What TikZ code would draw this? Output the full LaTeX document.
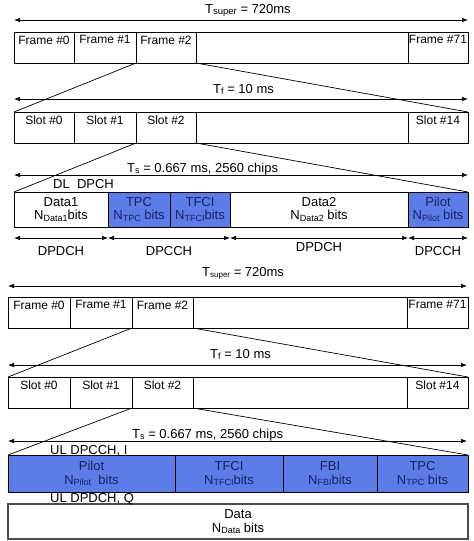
\documentclass[tikz,border=0pt]{standalone}
\usepackage{fontspec}
\setmainfont{Liberation Sans}
\usetikzlibrary{arrows.meta}
\definecolor{cellblue}{RGB}{92,124,232}
\definecolor{celltext}{RGB}{25,35,95}
\newcommand\sbs[1]{\raisebox{-1.5pt}{\fontsize{9}{9}\selectfont #1}}
\newcommand\sbt[1]{\raisebox{-1.5pt}{\fontsize{8}{8}\selectfont #1}}
\newcommand\fsz{\fontsize{13}{15}\selectfont}
\newcommand\fsm{\fontsize{12}{14}\selectfont}
\newcommand\mkcell[7]{\node[cellbase,#6,minimum width={(#4)-(#2)},minimum height={(#5)-(#3)},anchor=north west] (#1) at (#2,#3) {#7};}
\tikzset{
  cellbase/.style={draw=black,line width=0.8pt,inner sep=0pt,outer sep=0pt,align=center,font=\fsz,fill=white},
  bluecell/.style={fill=cellblue,text=celltext},
  datacell/.style={draw=black!70,line width=1.5pt},
  toplab/.style={label={[anchor=north,inner sep=0pt,yshift=-3.5pt,font=\fsm]north:#1}},
  zoomline/.style={draw=black,line width=0.7pt},
  dimarrow/.style={line width=0.7pt,{Latex[length=6pt,width=4.5pt]}-{Latex[length=6pt,width=4.5pt]}},
  lab/.style={font=\fsz,inner sep=0pt,anchor=base west},
  seglab/.style={font=\fsz,inner sep=0pt,anchor=base}
}
\begin{document}
\begin{tikzpicture}[x=1pt,y=-1pt]
\useasboundingbox[fill=white] (0,0) rectangle (474,541);

% ---------------- DL part ----------------
% frame row
\mkcell{fa0}{14}{32}{74}{63}{toplab={Frame \#0}}{}
\mkcell{fa1}{74}{32}{136}{63}{toplab={Frame \#1}}{}
\mkcell{fa2}{136}{32}{196}{63}{toplab={Frame \#2}}{}
\mkcell{fag}{196}{32}{408}{63}{}{}
\mkcell{fa71}{408}{32}{468}{63}{toplab={Frame \#71}}{}
% slot row
\mkcell{sa0}{14}{112}{74}{143}{toplab={Slot \#0}}{}
\mkcell{sa1}{74}{112}{136}{143}{toplab={Slot \#1}}{}
\mkcell{sa2}{136}{112}{196}{143}{toplab={Slot \#2}}{}
\mkcell{sag}{196}{112}{408}{143}{}{}
\mkcell{sa14}{408}{112}{468}{143}{toplab={Slot \#14}}{}
% DL DPCH row
\mkcell{dd1}{14}{192}{108}{227}{}{Data1\\[-2pt]N\sbs{Data1}bits}
\mkcell{dtpc}{108}{192}{170}{227}{bluecell}{TPC\\[-2pt]N\sbs{TPC} bits}
\mkcell{dtfci}{170}{192}{230}{227}{bluecell}{TFCI\\[-2pt]N\sbs{TFCI}bits}
\mkcell{dd2}{230}{192}{408}{227}{}{Data2\\[-2pt]N\sbs{Data2} bits}
\mkcell{dpil}{408}{192}{468}{227}{bluecell}{Pilot\\[-2pt]N\sbs{Pilot} bits}

% zoom lines
\draw[zoomline] (fa2.south west) -- (sa0.north west);
\draw[zoomline] (fa2.south east) -- (sa14.north east);
\draw[zoomline] (sa2.south west) -- (dd1.north west);
\draw[zoomline] (sa2.south east) -- (dpil.north east);

% time arrows
\coordinate (aTsL) at (14,20); \coordinate (aTsR) at (468,20);
\coordinate (aTfL) at (14,99); \coordinate (aTfR) at (468,99);
\coordinate (aTtL) at (14,175); \coordinate (aTtR) at (468,175);
\draw[dimarrow] (aTsL) -- (aTsR);
\draw[dimarrow] (aTfL) -- (aTfR);
\draw[dimarrow] (aTtL) -- (aTtR);
\node[lab] (lTsupA) at (205,13) {T{\raisebox{-1.5pt}{\fontsize{9.5}{9.5}\selectfont super}} = 720ms};
\node[lab] (lTfA) at (213,93) {T\sbs{f} = 10 ms};
\node[lab] (lTsA) at (127,172) {T\sbs{s} = 0.667 ms, 2560 chips};
\node[lab] (lDL) at (53,188) {DL\ \ DPCH};

% channel arrows
\coordinate (c0) at (14,238); \coordinate (c1) at (108,238);
\coordinate (c2) at (230,238); \coordinate (c3) at (408,238);
\coordinate (c4) at (468,238);
\draw[dimarrow] (c0) -- (c1);
\draw[dimarrow] (c1) -- (c2);
\draw[dimarrow] (c2) -- (c3);
\draw[dimarrow] (c3) -- (c4);
\node[seglab] (lch1) at (61,255) {DPDCH};
\node[seglab] (lch2) at (169,255) {DPCCH};
\node[seglab] (lch3) at (319,251) {DPDCH};
\node[seglab] (lch4) at (438,255) {DPCCH};

% ---------------- UL part ----------------
\mkcell{fb0}{8}{297}{70}{328}{toplab={Frame \#0}}{}
\mkcell{fb1}{70}{297}{132}{328}{toplab={Frame \#1}}{}
\mkcell{fb2}{132}{297}{193}{328}{toplab={Frame \#2}}{}
\mkcell{fbg}{193}{297}{407}{328}{}{}
\mkcell{fb71}{407}{297}{468}{328}{toplab={Frame \#71}}{}
\mkcell{sb0}{8}{377}{70}{408}{toplab={Slot \#0}}{}
\mkcell{sb1}{70}{377}{132}{408}{toplab={Slot \#1}}{}
\mkcell{sb2}{132}{377}{193}{408}{toplab={Slot \#2}}{}
\mkcell{sbg}{193}{377}{407}{408}{}{}
\mkcell{sb14}{407}{377}{468}{408}{toplab={Slot \#14}}{}
% UL DPCCH row
\mkcell{upil}{8}{455}{175}{492}{bluecell}{Pilot\\[-1pt]N\sbs{Pilot}\ \ bits}
\mkcell{utfci}{175}{455}{283}{492}{bluecell}{TFCI\\[-1pt]N\sbs{TFCI}bits}
\mkcell{ufbi}{283}{455}{377}{492}{bluecell}{FBI\\[-1pt]N\sbs{FBI}bits}
\mkcell{utpc}{377}{455}{468}{492}{bluecell}{TPC\\[-1pt]N\sbs{TPC} bits}
% UL DPDCH row
\mkcell{udat}{8}{504}{468}{539}{datacell}{Data\\[-1pt]N\sbs{Data} bits}

\draw[zoomline] (fb2.south west) -- (sb0.north west);
\draw[zoomline] (fb2.south east) -- (sb14.north east);
\draw[zoomline] (sb2.south west) -- (upil.north west);
\draw[zoomline] (sb2.south east) -- (utpc.north east);

\coordinate (bTsL) at (8,286); \coordinate (bTsR) at (467,286);
\coordinate (bTfL) at (8,365); \coordinate (bTfR) at (467,365);
\coordinate (bTtL) at (8,441); \coordinate (bTtR) at (467,441);
\draw[dimarrow] (bTsL) -- (bTsR);
\draw[dimarrow] (bTfL) -- (bTfR);
\draw[dimarrow] (bTtL) -- (bTtR);
\node[lab] (lTsupB) at (202,276) {T\sbt{super} = 720ms};
\node[lab] (lTfB) at (210,358) {T\sbs{f} = 10 ms};
\node[lab] (lTsB) at (132,438) {T\sbs{s} = 0.667 ms, 2560 chips};
\node[lab] (lULc) at (50,454) {UL DPCCH, I};
\node[lab] (lULd) at (50,502) {UL DPDCH, Q};
\end{tikzpicture}
\end{document}
